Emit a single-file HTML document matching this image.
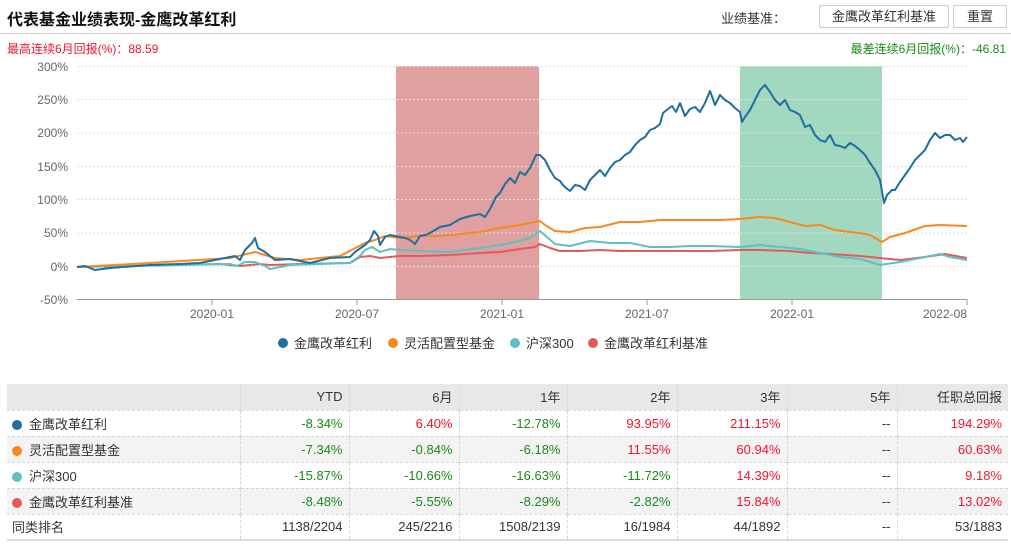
<!DOCTYPE html>
<html><head><meta charset="utf-8"><style>
*{margin:0;padding:0;box-sizing:border-box}
body{width:1011px;height:545px;background:#fff;font-family:"Liberation Sans","Noto Sans CJK SC",sans-serif;position:relative;overflow:hidden}
.abs{position:absolute}
.btn{position:absolute;border:1px solid #ccc;border-radius:2px;font-size:13px;color:#333;text-align:center;line-height:21px;height:23px;top:5px;background:#fff}
table{position:absolute;left:7px;top:384px;width:1001px;border-collapse:collapse;font-size:13px;table-layout:fixed}
td{height:26px;text-align:right;padding-right:6px;border-left:1px dashed #d8d8d8;color:#333;white-space:nowrap}
td:first-child{text-align:left;border-left:none;padding-left:5px}
tr.h td{background:#e8e8e8;color:#333}
tr.g td{background:#f3f3f3}
tr{border-bottom:1px dashed #d8d8d8}
tr.last{border-bottom:2px solid #ddd}
.r{color:#f0142d}.n{color:#1a8a1a}
.dot{display:inline-block;width:10px;height:10px;border-radius:50%;margin-right:7px;vertical-align:-1px}
</style></head><body>
<div class="abs" style="left:7px;top:6px;font-size:16px;font-weight:bold;color:#111">代表基金业绩表现-金鹰改革红利</div>
<div class="abs" style="left:721px;top:8px;font-size:13px;color:#333">业绩基准：</div>
<div class="btn" style="left:819px;width:130px">金鹰改革红利基准</div>
<div class="btn" style="left:953px;width:54px">重置</div>
<div class="abs" style="left:0;top:33px;width:1011px;height:1px;background:#ccc"></div>
<div class="abs" style="left:7px;top:40px;font-size:12px;color:#f0142d">最高连续6月回报(%)：88.59</div>
<div class="abs" style="right:5px;top:40px;font-size:12px;color:#1a8a1a">最差连续6月回报(%)：-46.81</div>
<svg class="abs" style="left:0;top:0" width="1011" height="380" font-family="Liberation Sans, sans-serif">
<rect x="396" y="66" width="143" height="234" fill="#e1a0a0"/>
<rect x="740" y="66" width="142" height="234" fill="#a3d8c0"/>
<g stroke="#ddd" stroke-dasharray="2,2" stroke-width="1">
<line x1="77" x2="967" y1="66.5" y2="66.5"/><line x1="77" x2="967" y1="99.5" y2="99.5"/><line x1="77" x2="967" y1="133" y2="133"/><line x1="77" x2="967" y1="166.5" y2="166.5"/><line x1="77" x2="967" y1="199.5" y2="199.5"/><line x1="77" x2="967" y1="233" y2="233"/><line x1="77" x2="967" y1="266.5" y2="266.5"/></g>
<line x1="77" x2="967" y1="299.5" y2="299.5" stroke="#999"/>
<g stroke="#999"><line x1="212" x2="212" y1="299" y2="305"/><line x1="357" x2="357" y1="299" y2="305"/><line x1="502" x2="502" y1="299" y2="305"/><line x1="647" x2="647" y1="299" y2="305"/><line x1="792" x2="792" y1="299" y2="305"/><line x1="967" x2="967" y1="299" y2="305"/></g>
<g font-size="12" fill="#666" text-anchor="end">
<text x="68" y="71">300%</text><text x="68" y="104">250%</text><text x="68" y="137">200%</text><text x="68" y="171">150%</text><text x="68" y="204">100%</text><text x="68" y="237">50%</text><text x="68" y="271">0%</text><text x="68" y="304">-50%</text></g>
<g font-size="12" fill="#666" text-anchor="middle">
<text x="212" y="318">2020-01</text><text x="357" y="318">2020-07</text><text x="502" y="318">2021-01</text><text x="647" y="318">2021-07</text><text x="792" y="318">2022-01</text><text x="967" y="318" text-anchor="end">2022-08</text></g>
<g fill="none" stroke-width="2" stroke-linejoin="round">
<polyline stroke="#e05c5c" points="77,267 220,264 240,266 260,264 270,265 300,264 350,263 360,257 370,256 380,258 400,256 420,256 450,255 480,253 500,252 520,249 535,247 540,244 550,248 560,251 580,251 600,250 620,251 650,251 680,251 710,251 740,250 760,250 790,251 810,253 830,254 860,256 880,258 900,260 925,257 945,254 967,258"/>
<polyline stroke="#5ec0c0" points="77,267 230,264 237,266 245,262 255,262 265,266 270,269 290,265 320,264 350,263 360,256 365,250 372,247 380,252 390,249 400,250 420,251 450,252 480,248 500,245 515,242 530,238 540,231 548,238 555,244 570,246 590,241 610,243 630,243 650,247 670,247 690,246 710,246 740,247 760,245 780,247 800,249 820,253 840,257 860,259 880,265 900,262 920,258 940,254 950,257 967,260"/>
<polyline stroke="#f7891f" points="77,267 150,263 230,258 255,252 265,255 275,258 300,260 340,256 365,243 375,240 385,236 400,238 420,236 440,236 460,234 480,232 500,228 520,225 535,222 540,221 545,225 555,231 570,232 585,228 600,227 620,222 640,222 660,220 680,220 700,220 720,220 740,219 760,217 775,218 790,222 805,226 820,225 835,230 850,232 860,233 870,235 882,242 890,237 905,233 925,226 940,225 967,226"/>
<polyline stroke="#1f6f9e" points="77,267 85,266 95,270 110,268 150,265 180,264 200,263 225,258 235,256 240,260 245,250 252,243 255,238 258,248 265,252 275,260 290,259 310,263 330,258 350,257 355,252 365,245 370,240 374,231 378,236 380,245 385,237 390,235 395,236 400,237 405,238 410,240 415,244 420,236 425,235 430,233 440,227 450,225 460,219 470,216 480,214 485,217 490,209 496,197 500,193 505,184 510,178 515,183 520,172 525,175 530,168 536,155 540,155 545,160 550,170 555,178 560,181 563,185 566,188 570,191 575,185 580,186 585,190 590,180 595,175 600,170 605,176 610,168 615,162 620,160 625,155 630,152 635,145 640,140 645,137 650,130 655,128 660,124 663,113 668,109 672,106 676,112 680,103 685,116 690,109 695,107 700,112 705,103 710,91 715,105 720,95 725,100 730,103 735,108 740,112 742,122 745,117 750,110 755,100 760,90 765,85 770,92 775,100 780,105 785,100 790,110 795,112 800,115 805,127 810,125 815,135 820,140 825,142 830,135 835,145 840,146 845,148 850,143 855,146 860,150 865,155 870,163 875,170 880,180 884,203 887,195 892,190 895,190 900,182 905,175 910,168 915,160 920,155 925,150 930,140 935,133 940,138 945,135 950,135 955,140 960,138 963,142 967,137"/>
</g>
<g font-size="13" fill="#333" font-family="Liberation Sans, Noto Sans CJK SC, sans-serif">
<circle cx="283" cy="343" r="5" fill="#1f6f9e"/><text x="294" y="348">金鹰改革红利</text>
<circle cx="393" cy="343" r="5" fill="#f7891f"/><text x="404" y="348">灵活配置型基金</text>
<circle cx="515" cy="343" r="5" fill="#5ec0c0"/><text x="526" y="348">沪深300</text>
<circle cx="593" cy="343" r="5" fill="#e05c5c"/><text x="604" y="348">金鹰改革红利基准</text>
</g>
</svg>
<table>
<colgroup><col style="width:233px"><col style="width:109px"><col style="width:110px"><col style="width:108px"><col style="width:110px"><col style="width:110px"><col style="width:110px"><col style="width:111px"></colgroup>
<tr class="h"><td></td><td>YTD</td><td>6月</td><td>1年</td><td>2年</td><td>3年</td><td>5年</td><td>任职总回报</td></tr>
<tr><td><span class="dot" style="background:#1f6f9e"></span>金鹰改革红利</td><td class="n">-8.34%</td><td class="r">6.40%</td><td class="n">-12.78%</td><td class="r">93.95%</td><td class="r">211.15%</td><td>--</td><td class="r">194.29%</td></tr>
<tr class="g"><td><span class="dot" style="background:#f7891f"></span>灵活配置型基金</td><td class="n">-7.34%</td><td class="n">-0.84%</td><td class="n">-6.18%</td><td class="r">11.55%</td><td class="r">60.94%</td><td>--</td><td class="r">60.63%</td></tr>
<tr><td><span class="dot" style="background:#5ec0c0"></span>沪深300</td><td class="n">-15.87%</td><td class="n">-10.66%</td><td class="n">-16.63%</td><td class="n">-11.72%</td><td class="r">14.39%</td><td>--</td><td class="r">9.18%</td></tr>
<tr class="g"><td><span class="dot" style="background:#e05c5c"></span>金鹰改革红利基准</td><td class="n">-8.48%</td><td class="n">-5.55%</td><td class="n">-8.29%</td><td class="n">-2.82%</td><td class="r">15.84%</td><td>--</td><td class="r">13.02%</td></tr>
<tr class="last"><td>同类排名</td><td>1138/2204</td><td>245/2216</td><td>1508/2139</td><td>16/1984</td><td>44/1892</td><td>--</td><td>53/1883</td></tr>
</table>
</body></html>
